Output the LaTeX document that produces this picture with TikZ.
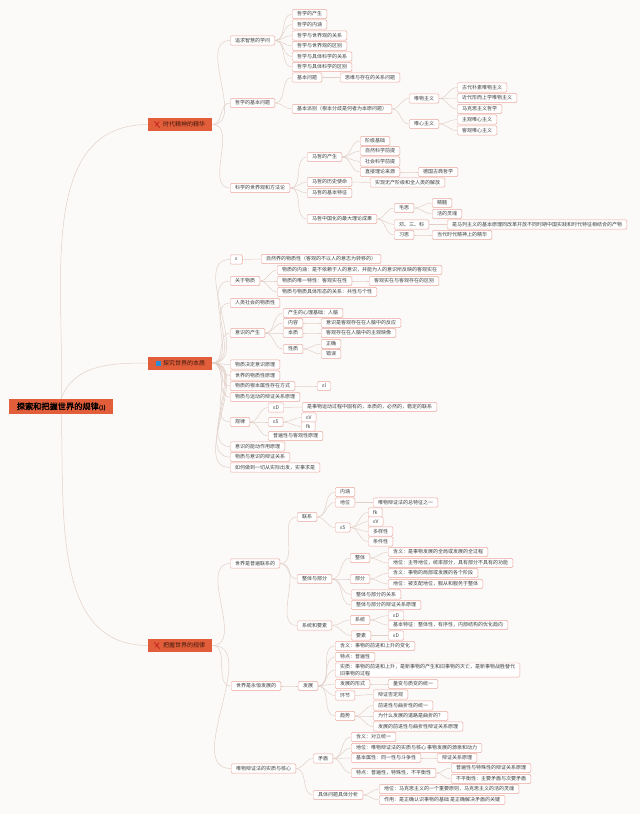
\documentclass[tikz,border=0pt]{standalone}
\usepackage{fontspec}
\newfontfamily\cjk{Noto Sans CJK SC}
\newfontfamily\cjkb[FakeBold=2]{Noto Sans CJK SC}
\definecolor{bgc}{RGB}{251,250,248}
\definecolor{bdc}{RGB}{234,166,156}
\definecolor{lnc}{RGB}{226,208,200}
\definecolor{mainc}{RGB}{226,94,58}
\definecolor{txc}{RGB}{62,62,62}
\definecolor{mtc}{RGB}{66,24,12}
\definecolor{iconred}{RGB}{190,30,30}
\definecolor{iconblue}{RGB}{40,140,215}
\pgfdeclarelayer{bgl}
\pgfsetlayers{bgl,main}
\tikzset{
  nd/.style={draw=bdc, fill=white, rounded corners=1.2pt, line width=0.45pt,
    font=\cjk\fontsize{5}{6.4}\selectfont, text=txc, inner xsep=4.8pt, inner ysep=0.6pt,
    minimum height=9.2pt, anchor=west},
  brn/.style={fill=mainc, font=\cjk\fontsize{6}{7}\selectfont, text=mtc, inner sep=0pt,
    minimum width=64pt, minimum height=13pt, anchor=west},
  rootn/.style={fill=mainc, text=black, inner sep=0pt, minimum width=104pt,
    minimum height=15pt, anchor=west},
  ln/.style={draw=lnc, line width=0.5pt},
  iconl/.style={draw=iconred, line width=0.7pt, line cap=round}
}
\begin{document}
\begin{tikzpicture}[x=1pt,y=-1pt]
\useasboundingbox (0,0) rectangle (640,814);
% root and main branches
\node[rootn] (R) at (9,406.5) {{\cjkb\fontsize{8.2}{9}\selectfont 探索和把握世界的规律}{\cjkb\fontsize{5.5}{6}\selectfont(1)}};
\node[brn] (B1) at (148,124.5) {\hspace{8pt}时代精神的精华};
\node[brn] (B2) at (148,363) {\hspace{8pt}探究世界的本质};
\node[brn] (B3) at (148,645.5) {\hspace{8pt}把握世界的规律};
\draw[iconl] (154.5,121.5) -- (159.5,127.5);
\draw[iconl] (159,121.8) -- (155.5,126);
\fill[iconblue] (155.5,360.5) rectangle (160.5,365.5);
\draw[iconl] (154.5,642.5) -- (159.5,648.5);
\draw[iconl] (159,642.8) -- (155.5,647);
% subtree 1
\node[nd] (a1) at (230,40.5) {追求智慧的学问};
\node[nd] (a11) at (292,14) {哲学的产生};
\node[nd] (a12) at (292,24.5) {哲学的内涵};
\node[nd] (a13) at (292,35.5) {哲学与世界观的关系};
\node[nd] (a14) at (292,46) {哲学与世界观的区别};
\node[nd] (a15) at (292,56.5) {哲学与具体科学的关系};
\node[nd] (a16) at (292,67) {哲学与具体科学的区别};
\node[nd] (a2) at (230,103) {哲学的基本问题};
\node[nd] (a21) at (292,77.5) {基本问题};
\node[nd] (a211) at (340,77.5) {思维与存在的关系问题};
\node[nd] (a22) at (292,109) {基本派别（根本分歧是何者为本原问题）};
\node[nd] (a221) at (409,98.5) {唯物主义};
\node[nd] (a2211) at (457,87.5) {古代朴素唯物主义};
\node[nd] (a2212) at (457,98) {近代形而上学唯物主义};
\node[nd] (a2213) at (457,109) {马克思主义哲学};
\node[nd] (a222) at (409,124) {唯心主义};
\node[nd] (a2221) at (457,119.5) {主观唯心主义};
\node[nd] (a2222) at (457,130.5) {客观唯心主义};
\node[nd] (a3) at (230,188) {科学的世界观和方法论};
\node[nd] (a31) at (307,157) {马哲的产生};
\node[nd] (a311) at (360,141) {阶级基础};
\node[nd] (a312) at (360,151) {自然科学前提};
\node[nd] (a313) at (360,161.5) {社会科学前提};
\node[nd] (a314) at (360,172) {直接理论来源};
\node[nd] (a3141) at (418,172) {德国古典哲学};
\node[nd] (a32) at (307,182) {马哲的历史使命};
\node[nd] (a321) at (370,182.5) {实现无产阶级和全人类的解放};
\node[nd] (a33) at (307,193) {马哲的基本特征};
\node[nd] (a34) at (307,219) {马哲中国化的最大理论成果};
\node[nd] (a341) at (394,208) {毛思};
\node[nd] (a3411) at (432,203) {精髓};
\node[nd] (a3412) at (432,214) {活的灵魂};
\node[nd] (a342) at (394,224.5) {邓、三、科};
\node[nd] (a3421) at (447,224.5) {是马列主义的基本原理同改革开放不同时期中国实践和时代特征相结合的产物};
\node[nd] (a343) at (394,235) {习思};
\node[nd] (a3431) at (432,235) {当代时代精神上的精华};
% subtree 2
\node[nd] (c1) at (230,259.5) {ε};
\node[nd] (c11) at (261,259) {自然界的物质性（客观的不以人的意志为转移的）};
\node[nd] (c2) at (230,281) {关于物质};
\node[nd] (c21) at (277,270) {物质的内涵：是不依赖于人的意识，并能为人的意识所反映的客观实在};
\node[nd] (c22) at (277,281) {物质的唯一特性：客观实在性};
\node[nd] (c221) at (369,281) {客观实在与客观存在的区别};
\node[nd] (c23) at (277,292) {物质与物质具体形态的关系：共性与个性};
\node[nd] (c3) at (230,303) {人类社会的物质性};
\node[nd] (c4) at (230,333) {意识的产生};
\node[nd] (c41) at (283,313) {产生的心理基础：人脑};
\node[nd] (c42) at (283,323) {内容};
\node[nd] (c421) at (321,323) {意识是客观存在在人脑中的反应};
\node[nd] (c43) at (283,333) {本质};
\node[nd] (c431) at (321,333) {客观存在在人脑中的主观映像};
\node[nd] (c44) at (283,349) {性质};
\node[nd] (c441) at (321,344) {正确};
\node[nd] (c442) at (321,354) {错误};
\node[nd] (c5) at (230,364.5) {物质决定意识原理};
\node[nd] (c6) at (230,375.5) {世界的物质性原理};
\node[nd] (c7) at (230,386) {物质的根本属性存在方式};
\node[nd] (c71) at (317,386) {εl};
\node[nd] (c8) at (230,397) {物质与运动的辩证关系原理};
\node[nd] (c9) at (230,422) {规律};
\node[nd] (c91) at (268,407.5) {εD};
\node[nd] (c911) at (302,407) {是事物运动过程中固有的，本质的，必然的，稳定的联系};
\node[nd] (c92) at (268,422) {ε5};
\node[nd] (c921) at (301,417.5) {εV};
\node[nd] (c922) at (301,426.5) {fk};
\node[nd] (c93) at (268,436) {普遍性与客观性原理};
\node[nd] (c10) at (230,446.5) {意识的能动作用原理};
\node[nd] (c11b) at (230,457) {物质与意识的辩证关系};
\node[nd] (c12) at (230,467.5) {如何做到一切从实际出发，实事求是};
% subtree 3
\node[nd] (d1) at (230,563.5) {世界是普遍联系的};
\node[nd] (d11) at (297,517) {联系};
\node[nd] (d111) at (335,492) {内涵};
\node[nd] (d112) at (335,502.5) {地位};
\node[nd] (d1121) at (373,502.5) {唯物辩证法的总特征之一};
\node[nd] (d113) at (335,527.5) {ε5};
\node[nd] (d1131) at (368,512.5) {fk};
\node[nd] (d1132) at (368,521.5) {εV};
\node[nd] (d1133) at (368,531.5) {多样性};
\node[nd] (d1134) at (368,541.5) {条件性};
\node[nd] (d12) at (297,579) {整体与部分};
\node[nd] (d121) at (350,558) {整体};
\node[nd] (d1211) at (388,552) {含义：是事物发展的全局或发展的全过程};
\node[nd] (d1212) at (388,563) {地位：主导地位，统率部分，具有部分不具有的功能};
\node[nd] (d122) at (350,579) {部分};
\node[nd] (d1221) at (388,573) {含义：事物的局部或发展的各个阶段};
\node[nd] (d1222) at (388,584) {地位：被支配地位，服从和服务于整体};
\node[nd] (d123) at (351,594.5) {整体与部分的关系};
\node[nd] (d124) at (351,605) {整体与部分的辩证关系原理};
\node[nd] (d13) at (297,625.5) {系统和要素};
\node[nd] (d131) at (350,620) {系统};
\node[nd] (d1311) at (388,615.5) {εD};
\node[nd] (d1312) at (388,625) {基本特征：整体性，有序性，内部结构的优化趋向};
\node[nd] (d132) at (351,635.5) {要素};
\node[nd] (d1321) at (388,635.5) {εD};
\node[nd] (d2) at (231,686) {世界是永恒发展的};
\node[nd] (d21) at (298,686) {发展};
\node[nd] (d211) at (335,646) {含义：事物的前进和上升的变化};
\node[nd] (d212) at (335,657) {特点：普遍性};
\node[nd, align=left, inner ysep=1.5pt] (d213) at (335,670) {实质：事物的前进和上升，是新事物的产生和旧事物的灭亡，是新事物战胜替代\\旧事物的过程};
\node[nd] (d214) at (335,684) {发展的形式};
\node[nd] (d2141) at (388,684) {量变与质变的统一};
\node[nd] (d215) at (335,695.5) {环节};
\node[nd] (d2151) at (373,694.5) {辩证否定观};
\node[nd] (d216) at (335,716) {趋势};
\node[nd] (d2161) at (373,705.5) {前进性与曲折性的统一};
\node[nd] (d2162) at (373,716) {为什么发展的道路是曲折的？};
\node[nd] (d2163) at (373,726.5) {发展的前进性与曲折性辩证关系原理};
\node[nd] (d3) at (231,768.5) {唯物辩证法的实质与核心};
\node[nd] (d31) at (313,758.5) {矛盾};
\node[nd] (d311) at (351,737) {含义：对立统一};
\node[nd] (d312) at (351,748) {地位：唯物辩证法的实质与核心 事物发展的源泉和动力};
\node[nd] (d313) at (351,758) {基本属性：同一性与斗争性};
\node[nd] (d3131) at (437,758) {辩证关系原理};
\node[nd] (d314) at (351,773) {特点：普遍性，特殊性，不平衡性};
\node[nd] (d3141) at (451,768) {普遍性与特殊性的辩证关系原理};
\node[nd] (d3142) at (451,779) {不平衡性：主要矛盾与次要矛盾};
\node[nd] (d32) at (313,795) {具体问题具体分析};
\node[nd] (d321) at (379,789) {地位：马克思主义的一个重要原则，马克思主义的活的灵魂};
\node[nd] (d322) at (379,800) {作用：是正确认识事物的基础 是正确解决矛盾的关键};
% connectors
\begin{pgfonlayer}{bgl}
\fill[bgc] (0,0) rectangle (640,814);
\draw[ln] (R.north) to[out=88,in=180] (B1.west);
\draw[ln] (R.north) to[out=70,in=180] (B2.west);
\draw[ln] (R.south) to[out=-88,in=180] (B3.west);
\foreach \a/\b in {B1/a1,B1/a2,B1/a3,
  a1/a11,a1/a12,a1/a13,a1/a14,a1/a15,a1/a16,
  a2/a21,a21/a211,a2/a22,a22/a221,a221/a2211,a221/a2212,a221/a2213,
  a22/a222,a222/a2221,a222/a2222,
  a3/a31,a31/a311,a31/a312,a31/a313,a31/a314,a314/a3141,
  a3/a32,a32/a321,a3/a33,a3/a34,a34/a341,a341/a3411,a341/a3412,
  a34/a342,a342/a3421,a34/a343,a343/a3431,
  B2/c1,c1/c11,B2/c2,c2/c21,c2/c22,c22/c221,c2/c23,B2/c3,
  B2/c4,c4/c41,c4/c42,c42/c421,c4/c43,c43/c431,c4/c44,c44/c441,c44/c442,
  B2/c5,B2/c6,B2/c7,c7/c71,B2/c8,B2/c9,c9/c91,c91/c911,c9/c92,c92/c921,c92/c922,c9/c93,
  B2/c10,B2/c11b,B2/c12,
  B3/d1,d1/d11,d11/d111,d11/d112,d112/d1121,d11/d113,d113/d1131,d113/d1132,d113/d1133,d113/d1134,
  d1/d12,d12/d121,d121/d1211,d121/d1212,d12/d122,d122/d1221,d122/d1222,d12/d123,d12/d124,
  d1/d13,d13/d131,d131/d1311,d131/d1312,d13/d132,d132/d1321,
  B3/d2,d2/d21,d21/d211,d21/d212,d21/d213,d21/d214,d214/d2141,d21/d215,d215/d2151,
  d21/d216,d216/d2161,d216/d2162,d216/d2163,
  B3/d3,d3/d31,d31/d311,d31/d312,d31/d313,d313/d3131,d31/d314,d314/d3141,d314/d3142,
  d3/d32,d32/d321,d32/d322}
  \draw[ln] (\a.east) to[out=0,in=180] (\b.west);
\end{pgfonlayer}
\end{tikzpicture}
\end{document}
